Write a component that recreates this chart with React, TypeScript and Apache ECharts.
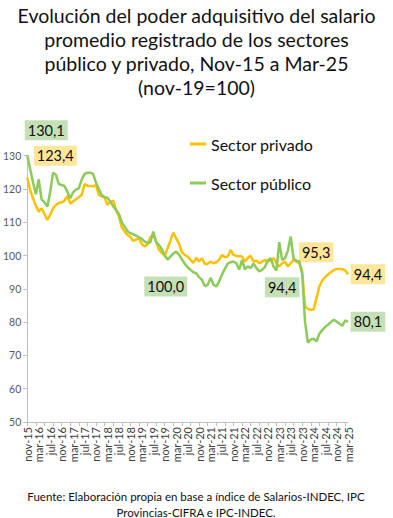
import React, { useEffect, useRef } from "react";
import * as echarts from "echarts";

const monthNames = ["ene", "feb", "mar", "abr", "may", "jun", "jul", "ago", "sep", "oct", "nov", "dic"];
const startMonth = 10; // nov
const startYear = 15;
const nMonths = 113;

const categories: string[] = [];
for (let i = 0; i < nMonths; i++) {
  const m = (startMonth + i) % 12;
  const y = startYear + Math.floor((startMonth + i) / 12);
  categories.push(`${monthNames[m]}-${y}`);
}

const privado = [
  123.4, 119.7, 117.2, 115.0, 113.2, 114.2, 112.5, 110.7, 112.2, 114.2,
  115.2, 115.8, 116.0, 116.5, 117.9, 115.7, 116.2, 116.9, 117.5, 118.2,
  121.5, 121.0, 120.9, 120.8, 121.2, 118.2, 117.8, 117.5, 115.2, 116.2,
  116.5, 113.7, 111.7, 108.5, 107.2, 106.2, 105.6, 104.4, 104.8, 105.2,
  103.5, 102.7, 103.4, 105.5, 106.2, 104.2, 101.7, 100.8, 100.0, 102.2,
  104.5, 106.9, 105.2, 103.5, 101.0, 100.2, 99.7, 98.7, 97.8, 99.3,
  98.2, 99.2, 97.5, 97.5, 98.2, 97.7, 98.0, 98.7, 100.2, 99.5,
  99.7, 101.7, 100.2, 99.9, 99.8, 99.7, 98.2, 99.3, 99.9, 98.2,
  98.5, 97.7, 98.2, 98.7, 98.2, 98.7, 99.2, 97.7, 96.7, 97.7,
  98.2, 96.7, 97.7, 98.7, 98.2, 97.7, 95.3, 84.7, 84.0, 83.7,
  83.8, 87.2, 90.7, 92.5, 93.5, 94.3, 95.0, 95.6, 96.0, 96.0,
  95.9, 95.6, 94.4,
];

const publico = [
  130.1, 126.0, 122.0, 118.4, 122.9, 116.9, 116.0, 114.7, 119.0, 124.9,
  124.3, 121.5, 121.2, 120.9, 119.2, 117.2, 119.0, 119.8, 120.2, 122.8,
  124.5, 124.9, 124.9, 124.5, 121.9, 120.0, 118.2, 117.5, 117.4, 116.2,
  114.8, 113.7, 112.5, 110.0, 108.7, 107.3, 106.7, 106.4, 106.0, 105.5,
  105.0, 104.2, 103.8, 104.0, 107.2, 104.0, 103.2, 101.9, 100.0, 98.8,
  99.7, 100.6, 101.2, 100.2, 98.9, 97.5, 96.5, 95.7, 95.0, 94.7,
  93.5, 92.7, 90.8, 91.2, 93.3, 91.3, 90.7, 92.2, 94.3, 96.0,
  97.6, 98.0, 98.2, 97.7, 95.8, 98.7, 95.8, 96.8, 96.2, 97.6,
  96.3, 95.2, 95.7, 96.6, 98.5, 99.2, 96.7, 95.5, 104.0, 98.7,
  99.2, 101.5, 105.7, 99.0, 98.5, 98.2, 94.4, 80.0, 73.8, 74.8,
  75.0, 74.2, 76.5, 77.6, 78.5, 79.2, 80.0, 80.7, 80.2, 79.5,
  78.9, 80.5, 80.1,
];

const titleText = "Evolución del poder adquisitivo del salario\npromedio registrado de los sectores\npúblico y privado, Nov-15 a Mar-25\n(nov-19=100)";
const sourceLines = [
  "Fuente: Elaboración propia en base a índice de Salarios-INDEC, IPC",
  "Provincias-CIFRA e IPC-INDEC.",
];

const ORANGE = "#FFC000";
const GREEN = "#8CCB5A";
const ORANGE_BOX = "#FFE699";
const GREEN_BOX = "#C5E0B4";
const FONT = "Lato";

function fmt(v: number) {
  return v.toFixed(1).replace(".", ",");
}

function boxLabel(color: string) {
  return {
    show: true,
    position: "inside",
    formatter: (p: any) => fmt(Array.isArray(p.value) ? p.value[1] : p.value),
    backgroundColor: color,
    padding: [3, 3, 2, 3],
    color: "#111",
    fontSize: 14.5,
    fontFamily: FONT,
  };
}

const privadoLabels: Record<number, [number, number]> = {
  0: [28, -22],
  96: [14, -19],
  112: [20, 0],
};
const publicoLabels: Record<number, [number, number]> = {
  0: [19, -25],
  48: [1, 31],
  96: [-20, 13],
  112: [20, 0],
};

function layoutFor(offsets: Record<number, [number, number]>) {
  return (p: any) => {
    const o = offsets[p.dataIndex];
    if (!o) return { hideOverlap: false };
    return { dx: o[0], dy: o[1], hideOverlap: false };
  };
}

export default function App() {
  const ref = useRef<HTMLDivElement>(null);
  useEffect(() => {
    document.body.style.margin = "0";
    if (!ref.current) return;
    const chart = echarts.init(ref.current, undefined, { renderer: "svg" });

    const privData = privado.map((v, i) =>
      privadoLabels[i] ? { value: v, label: boxLabel(ORANGE_BOX) } : v
    );
    const pubData = publico.map((v, i) =>
      publicoLabels[i] ? { value: v, label: boxLabel(GREEN_BOX) } : v
    );

    chart.setOption({
      animation: false,
      textStyle: { fontFamily: FONT },
      title: {
        text: titleText,
        left: "center",
        top: -2,
        textStyle: { fontSize: 19.5, fontWeight: "normal", color: "#111", lineHeight: 24, fontFamily: FONT },
      },
      legend: {
        orient: "vertical",
        left: 185,
        top: 131,
        itemGap: 23,
        icon: "rect",
        itemWidth: 16,
        itemHeight: 3,
        textStyle: { fontSize: 16, color: "#111", fontFamily: FONT },
        data: ["Sector privado", "Sector público"],
      },
      grid: { left: 26, right: 45, top: 155.7, bottom: 96, containLabel: false },
      xAxis: {
        type: "category",
        data: categories,
        boundaryGap: false,
        axisLine: { lineStyle: { color: "#BFBFBF" } },
        axisTick: { show: true, interval: 2, length: 4, lineStyle: { color: "#BFBFBF" } },
        axisLabel: { interval: 3, rotate: 90, fontSize: 11, color: "#404040", margin: 5, fontFamily: FONT },
        splitLine: { show: false },
      },
      yAxis: {
        type: "value",
        min: 50,
        max: 130,
        interval: 10,
        axisLine: { show: true, lineStyle: { color: "#BFBFBF" } },
        axisTick: { show: true, length: 4, lineStyle: { color: "#BFBFBF" } },
        axisLabel: { fontSize: 10.5, color: "#595959", margin: 6, fontFamily: FONT },
        splitLine: { show: false },
      },
      series: [
        {
          name: "Sector privado",
          type: "line",
          data: privData,
          clip: false,
          showSymbol: true,
          showAllSymbol: true,
          symbol: "circle",
          symbolSize: 0,
          itemStyle: { color: ORANGE },
          lineStyle: { color: ORANGE, width: 2.5 },
          labelLayout: layoutFor(privadoLabels),
          z: 2,
        },
        {
          name: "Sector público",
          type: "line",
          data: pubData,
          clip: false,
          showSymbol: true,
          showAllSymbol: true,
          symbol: "circle",
          symbolSize: 0,
          itemStyle: { color: GREEN },
          lineStyle: { color: GREEN, width: 2.5 },
          labelLayout: layoutFor(publicoLabels),
          z: 3,
        },
      ],
      graphic: sourceLines.map((t, i) => ({
        type: "text",
        x: 196,
        y: 490 + i * 16,
        style: {
          text: t,
          textAlign: "center",
          textVerticalAlign: "top",
          fontSize: 11.5,
          fontFamily: FONT,
          fill: "#111",
        },
      })),
    });
    return () => chart.dispose();
  }, []);
  return <div ref={ref} style={{ width: 393, height: 518 }} />;
}
